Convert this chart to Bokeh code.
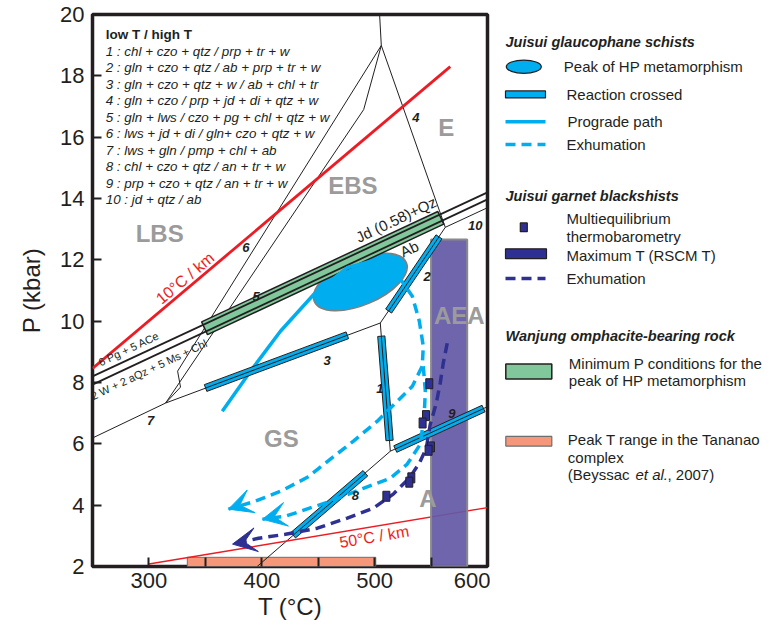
import math
from bokeh.plotting import figure
from bokeh.layouts import row
from bokeh.models import Range1d, FixedTicker, Arrow, VeeHead
from bokeh.embed import file_html
from bokeh.resources import INLINE
from bokeh.core.properties import value

FONT = "Liberation Sans"
DARK = "#231f20"
CYAN = "#00aeef"
NAVY = "#2e3192"
RED = "#ed1c24"
GREEN = "#80c79b"
SALMON = "#f7977a"
PURPLE = "#6459a6"
GREYTXT = "#9b9b9b"

# ---------------- data (T in °C, P in kbar) ----------------
T_MIN, T_MAX = 250, 600
P_MIN, P_MAX = 2, 20
t_ticks = [300, 400, 500, 600]
t_minor = [350, 450, 550]
p_ticks = [2, 4, 6, 8, 10, 12, 14, 16, 18, 20]

reaction_header = "low T / high T"
reaction_list = [
    "1 : chl + czo + qtz / prp + tr + w",
    "2 : gln + czo + qtz / ab + prp + tr + w",
    "3 : gln + czo + qtz + w / ab + chl + tr",
    "4 : gln + czo / prp + jd + di + qtz + w",
    "5 : gln + lws / czo + pg + chl + qtz + w",
    "6 : lws + jd + di / gln+ czo + qtz + w",
    "7 : lws + gln / pmp + chl + ab",
    "8 : chl + czo + qtz / an + tr + w",
    "9 : prp + czo + qtz / an + tr + w",
    "10 : jd + qtz / ab",
]

# thin reaction lines (petrogenetic grid)
rxn6_T = [505.9, 325.4, 328.0, 314.8]
rxn6_P = [18.99, 8.37, 7.85, 7.33]
rxn5_T = [505.9, 490.3, 314.8]
rxn5_P = [18.99, 16.9, 7.33]
rxn_top_T = [505.9, 504.4]
rxn_top_P = [18.99, 20.0]
rxn4_T = [505.9, 562.6]
rxn4_P = [18.99, 13.06]
rxn7_T = [250.0, 314.8]
rxn7_P = [6.19, 7.33]
rxn3_T = [314.8, 505.0]
rxn3_P = [7.33, 9.94]
rxn2_T = [505.0, 562.6]
rxn2_P = [9.94, 13.06]
rxn1_T = [505.0, 513.9]
rxn1_P = [9.94, 5.76]
rxn9_T = [513.9, 600.0]
rxn9_P = [5.76, 7.21]
rxn8_T = [513.9, 395.9]
rxn8_P = [5.76, 2.0]
rxn10_T = [562.6, 600.0]
rxn10_P = [13.06, 13.7]

# Jd + Qz = Ab double line
jd_up_T = [250, 600]
jd_up_P = [8.2, 14.2]
jd_lo_T = [250, 600]
jd_lo_P = [7.93, 13.97]

# geotherms
geo10_T = [250, 567]
geo10_P = [8.46, 18.3]
geo50_T = [300, 600]
geo50_P = [2.08, 3.92]

# reactions crossed (bars): 3, 2, 1, 9, 8
bar_T0 = [350.2, 512.4, 505.9, 518.3, 491.8]
bar_P0 = [7.82, 10.33, 9.51, 5.83, 5.04]
bar_T1 = [475.8, 557.0, 513.2, 596.5, 427.8]
bar_P1 = [9.54, 12.75, 6.11, 7.15, 3.02]

# minimum P for peak (Wanjung) along Jd(0.58)+Qz
green_T = [349.3, 558.6]
green_P = [9.77, 13.37]

# peak of HP metamorphism
peak_T = [487.3]
peak_P = [11.28]

# prograde path
pro_T = [365, 390, 416.5, 446, 475.6, 496.2, 513.9]
pro_P = [7.06, 8.37, 9.67, 10.87, 11.74, 11.95, 11.63]

# exhumation paths, glaucophane schists
exA_T = [521.0, 533.4, 539.6, 543.1, 542.2, 533.4, 520.1, 502.4, 481.2, 460.8, 440.4, 418.3, 394.4, 370.5]
exA_P = [11.47, 10.81, 10.0, 9.18, 8.53, 7.88, 7.39, 6.74, 6.09, 5.50, 4.91, 4.48, 4.13, 3.87]
exB_T = [543.1, 544.9, 544.0, 540.5, 528.9, 513.9, 490.0, 460.8, 434.2, 420.9, 400.6]
exB_P = [8.53, 7.72, 6.97, 5.99, 5.34, 4.88, 4.55, 4.13, 3.80, 3.64, 3.54]

# exhumation, garnet blackschists
exG_T = [564.3, 560.8, 558.1, 554.6, 549.3, 545.8, 539.6, 530.7, 516.5, 498.8, 475.8, 449.3, 421.0, 397.1, 374.1]
exG_P = [9.28, 8.63, 7.98, 7.32, 6.64, 5.86, 5.37, 4.88, 4.36, 3.90, 3.58, 3.25, 3.05, 2.92, 2.73]

# multiequilibrium thermobarometry
meq_T = [548.4, 545.5, 542.5, 549.9, 547.8, 532.5, 530.7, 510.4]
meq_P = [7.96, 6.92, 6.68, 5.90, 5.79, 4.89, 4.75, 4.29]

# RSCM maximum T
rscm_T = [550, 582]
rscm_Ptop = 12.66
# Tananao peak T range
tan_T = [334, 501]
tan_Ptop = 2.30

# region labels
region_text = ["LBS", "EBS", "E", "AEA", "GS", "A"]
region_T = [309.5, 480.7, 563.5, 575.0, 417.4, 547.1]
region_P = [12.87, 14.43, 16.30, 10.19, 6.18, 4.21]

# reaction number labels
num_text = ["1", "2", "3", "4", "5", "6", "7", "8", "9", "10"]
num_T = [504.6, 546.6, 457.9, 536.5, 394.9, 386.0, 301.5, 482.9, 568.5, 589.1]
num_P = [7.79, 11.47, 8.72, 16.65, 10.81, 12.41, 6.77, 4.32, 6.98, 13.13]

# ---------------- main figure ----------------
FRAME_W, FRAME_H = 395.0, 552.0
SX = FRAME_W / (T_MAX - T_MIN)
SY = FRAME_H / (P_MAX - P_MIN)


def band(t0, p0, t1, p1, half_px):
    dx = (t1 - t0) * SX
    dy = (p1 - p0) * SY
    L = math.hypot(dx, dy)
    ot = -dy / L * half_px / SX
    op = dx / L * half_px / SY
    return ([t0 + ot, t1 + ot, t1 - ot, t0 - ot], [p0 + op, p1 + op, p1 - op, p0 - op])


p = figure(width=490, height=627, x_range=Range1d(T_MIN, T_MAX), y_range=Range1d(P_MIN, P_MAX),
           toolbar_location=None, output_backend="svg",
           min_border_left=92, min_border_right=3, min_border_top=14, min_border_bottom=61)
p.grid.visible = False
p.outline_line_color = DARK
p.outline_line_width = 3.5
p.background_fill_color = "white"
p.border_fill_color = "white"

for ax in (p.xaxis[0], p.yaxis[0]):
    ax.axis_line_color = None
    ax.major_tick_in = 9
    ax.major_tick_out = 0
    ax.major_tick_line_width = 2
    ax.major_tick_line_color = DARK
    ax.minor_tick_in = 9
    ax.minor_tick_out = 0
    ax.minor_tick_line_width = 2
    ax.minor_tick_line_color = DARK
    ax.major_label_text_font = FONT
    ax.major_label_text_font_size = "22px"
    ax.major_label_text_color = DARK
    ax.axis_label_text_font = FONT
    ax.axis_label_text_font_size = "24px"
    ax.axis_label_text_font_style = "normal"
    ax.axis_label_text_color = DARK

p.xaxis[0].ticker = FixedTicker(ticks=t_ticks, minor_ticks=t_minor)
p.yaxis[0].ticker = FixedTicker(ticks=p_ticks, minor_ticks=[])
p.xaxis[0].axis_label = "T (°C)"
p.yaxis[0].axis_label = "P (kbar)"
p.xaxis[0].major_label_standoff = 6
p.yaxis[0].major_label_standoff = 8
p.xaxis[0].axis_label_standoff = 2
p.yaxis[0].axis_label_standoff = 12

# Tananao bar
p.quad(left=[tan_T[0]], right=[tan_T[1]], bottom=[P_MIN], top=[tan_Ptop],
       fill_color=SALMON, line_color="#6d6e70", line_width=1)

# thin reaction lines
for xs, ys in [(rxn6_T, rxn6_P), (rxn5_T, rxn5_P), (rxn_top_T, rxn_top_P), (rxn4_T, rxn4_P),
               (rxn7_T, rxn7_P), (rxn3_T, rxn3_P), (rxn2_T, rxn2_P), (rxn1_T, rxn1_P),
               (rxn9_T, rxn9_P), (rxn8_T, rxn8_P), (rxn10_T, rxn10_P)]:
    p.line(xs, ys, line_color=DARK, line_width=1)

# geotherms
p.line(geo10_T, geo10_P, line_color=RED, line_width=2.8)
p.line(geo50_T, geo50_P, line_color=RED, line_width=1.5)

# RSCM column
p.quad(left=[rscm_T[0]], right=[rscm_T[1]], bottom=[P_MIN], top=[rscm_Ptop],
       fill_color=PURPLE, fill_alpha=0.93, line_color="#8a8a8a", line_width=2)

# peak ellipse
p.ellipse(x=peak_T, y=peak_P, width=100, height=46, angle=0.40,
          width_units="screen", height_units="screen",
          fill_color=CYAN, line_color="#7f7f7f", line_width=1.5)

# green bar + Jd lines
gx, gy = band(green_T[0], green_P[0], green_T[1], green_P[1], 7.0)
p.patch(gx, gy, fill_color=GREEN, line_color=DARK, line_width=1.5)
p.line(jd_up_T, jd_up_P, line_color=DARK, line_width=1.8)
p.line(jd_lo_T, jd_lo_P, line_color=DARK, line_width=1.8)

# prograde path
p.line(pro_T, pro_P, line_color=CYAN, line_width=3.5)

# reaction crossed bars
bxs, bys = [], []
for t0, p0, t1, p1 in zip(bar_T0, bar_P0, bar_T1, bar_P1):
    bx, by = band(t0, p0, t1, p1, 3.6)
    bxs.append(bx)
    bys.append(by)
p.patches(bxs, bys, fill_color=CYAN, line_color=DARK, line_width=1)
p.multi_line([[a, b] for a, b in zip(bar_T0, bar_T1)], [[a, b] for a, b in zip(bar_P0, bar_P1)],
             line_color=DARK, line_width=1)

# exhumation paths
p.line(exA_T, exA_P, line_color=CYAN, line_width=3.5, line_dash="10 6")
p.line(exB_T, exB_P, line_color=CYAN, line_width=3.5, line_dash="10 6")
p.line(exG_T, exG_P, line_color=NAVY, line_width=3.5, line_dash="10 6")

for xs, ys, col in [(exA_T, exA_P, CYAN), (exB_T, exB_P, CYAN), (exG_T, exG_P, NAVY)]:
    p.add_layout(Arrow(end=VeeHead(size=24, fill_color=col, line_color=col, line_width=1),
                       x_start=xs[-3], y_start=ys[-3], x_end=xs[-1], y_end=ys[-1],
                       line_alpha=0, line_width=0))

# multiequilibrium points
p.rect(x=meq_T, y=meq_P, width=7, height=10, width_units="screen", height_units="screen",
       fill_color=NAVY, line_color=DARK, line_width=1)

# texts
p.text(x=region_T, y=region_P, text=region_text, text_font=value(FONT), text_font_size="24px",
       text_font_style="bold", text_color=GREYTXT, text_align="center", text_baseline="middle")
p.text(x=num_T, y=num_P, text=num_text, text_font=value(FONT), text_font_size="13px",
       text_font_style="bold italic", text_color=DARK, text_align="center", text_baseline="middle")

LIST_T, LIST_P0, LIST_STEP = 261.7, 18.80, 0.537
p.text(x=[LIST_T], y=[19.36], text=[reaction_header], text_font=value(FONT), text_font_size="13.5px",
       text_font_style="bold", text_color=DARK, text_baseline="middle")
p.text(x=[LIST_T] * len(reaction_list), y=[LIST_P0 - i * LIST_STEP for i in range(len(reaction_list))],
       text=reaction_list, text_font=value(FONT), text_font_size="13.4px", text_font_style="italic",
       text_color=DARK, text_baseline="middle")

p.text(x=[519.0], y=[13.32], text=["Jd (0.58)+Qz"], angle=0.44, text_font=value(FONT),
       text_font_size="15px", text_color=DARK, text_align="center", text_baseline="middle")
p.text(x=[530.7], y=[12.36], text=["Ab"], angle=0.44, text_font=value(FONT),
       text_font_size="15px", text_color=DARK, text_align="center", text_baseline="middle")
p.text(x=[282.1], y=[9.10], text=["6 Pg + 5 ACe"], angle=0.44, text_font=value(FONT),
       text_font_size="11px", text_color=DARK, text_align="center", text_baseline="middle")
p.text(x=[300.0], y=[8.42], text=["2 W + 2 aQz + 5 Ms + Chl"], angle=0.44, text_font=value(FONT),
       text_font_size="11px", text_color=DARK, text_align="center", text_baseline="middle")
p.text(x=[332.0], y=[11.4], text=["10°C / km"], angle=0.70, text_font=value(FONT),
       text_font_size="16px", text_color=RED, text_align="center", text_baseline="middle")
p.text(x=[499.7], y=[2.97], text=["50°C / km"], angle=0.166, text_font=value(FONT),
       text_font_size="16px", text_color=RED, text_align="center", text_baseline="middle")

# ---------------- legend panel ----------------
leg = figure(width=286, height=627, x_range=Range1d(0, 286), y_range=Range1d(627, 0),
             toolbar_location=None, output_backend="svg", x_axis_type=None, y_axis_type=None,
             min_border=0)
leg.grid.visible = False
leg.outline_line_color = None

LT = dict(text_font=value(FONT), text_color=DARK, text_baseline="middle")
leg.text(x=[15, 15, 15], y=[31.7, 206.7, 365],
         text=["Juisui glaucophane schists", "Juisui garnet blackshists", "Wanjung omphacite-bearing rock"],
         text_font_size="14.5px", text_font_style="bold italic", **LT)

leg.ellipse(x=[33.3], y=[59.3], width=35, height=15, fill_color=CYAN, line_color=DARK, line_width=1.2)
leg.rect(x=[35], y=[90.8], width=40, height=8, fill_color=CYAN, line_color=DARK, line_width=1.2)
leg.line([15, 55], [121.7, 121.7], line_color=CYAN, line_width=3.5)
leg.line([15, 55], [147.7, 147.7], line_color=CYAN, line_width=3.5, line_dash="10 6")
leg.rect(x=[33.3], y=[241.7], width=7, height=10, fill_color=NAVY, line_color=DARK, line_width=1.2)
leg.rect(x=[35.5], y=[271.7], width=41, height=11, fill_color=NAVY, line_color=DARK, line_width=1.2)
leg.line([15, 55], [300, 300], line_color=NAVY, line_width=3.5, line_dash="10 6")
leg.rect(x=[38.3], y=[405.5], width=46, height=17, fill_color=GREEN, line_color=DARK, line_width=1.5)
leg.rect(x=[38.3], y=[484.7], width=46, height=11, fill_color=SALMON, line_color="#6d6e70", line_width=1.2)

leg.text(x=[73.3, 76, 77, 76, 76, 76, 76, 76, 78.3, 78.3, 77.3, 77.3],
         y=[59.3, 90.8, 121.7, 147.7, 231.7, 251.7, 273.3, 300, 396, 416, 483.3, 502.7],
         text=["Peak of HP metamorphism", "Reaction crossed", "Prograde path", "Exhumation",
               "Multiequilibrium", "thermobarometry", "Maximum T (RSCM T)", "Exhumation",
               "Minimum P conditions for the", "peak of HP metamorphism",
               "Peak T range in the Tananao", "complex"],
         text_font_size="15px", **LT)
leg.text(x=[77.3], y=[522.7], text=["(Beyssac"], text_font_size="15px", **LT)
leg.text(x=[145.0], y=[522.7], text=["et al."], text_font_size="15px", text_font_style="italic", **LT)
leg.text(x=[177.0], y=[522.7], text=[", 2007)"], text_font_size="15px", **LT)

layout = row(p, leg)
open("out.html", "w").write(file_html(layout, INLINE))
